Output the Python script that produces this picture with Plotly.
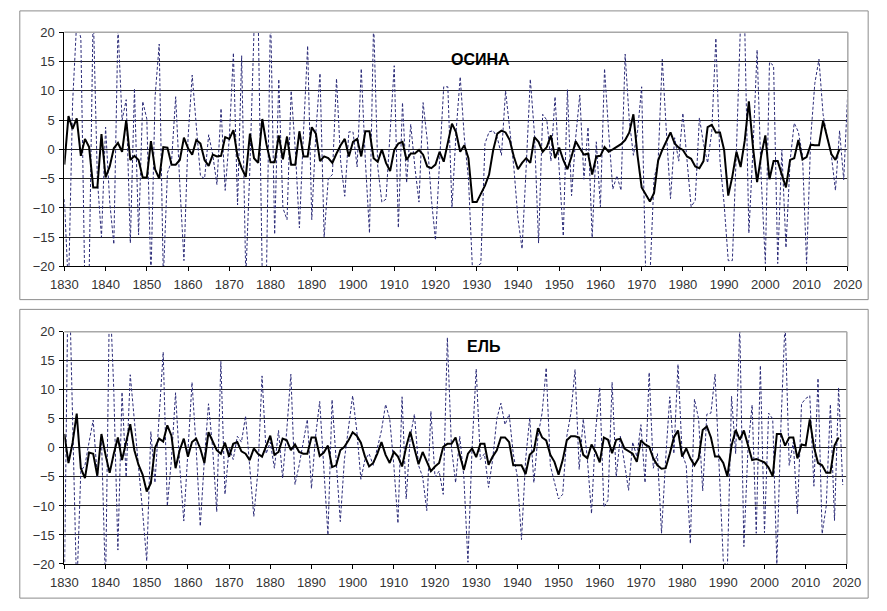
import plotly.graph_objects as go

# ---------------- data ----------------
years_annual = list(range(1830, 2021))   # dotted series (annual)
years_smooth = list(range(1830, 2019))   # thick series

osina_annual = [
    -8.5, -24, 8, 22, 19, -25, -22, 24, -5, -15,
    3.8, -9, -16.2, 21, 5, 8.5, -16, 10.4, -14.6, 8.2,
    5.2, -22, 9, 18, -22, -4, -2, 9, -6, -19,
    2, 12.7, 4, -4.5, -5, 2.5, -1, -6, 7, -7,
    2, 16.5, -9.5, 16, -22, -3, 20.5, 23, -22, -22,
    24, -14.5, 12, -10, -12, 10, 0, -13.4, 3, 17.7,
    -12, 3, 13, -15, -5, -4.3, 12.1, -2, -8, 3,
    3, -3, 13.8, -2, -14.3, 22, -3, -9, -8.5, 2,
    14.3, -13.4, 8, -5.7, 4.3, -3, -9, 8, 1.6, -8.4,
    -15.5, -2, 10.7, 10.7, -10, 3, 12.4, 2, -5, -21,
    -20, -19.5, 1, 3, 3.2, 2, -1, 10, 3, -3,
    -11.8, -17, -3, 12, 2.7, -16, 6, 5, -2, 9,
    -3.4, -14.8, 10.2, -7.9, 2, 9.3, -5.1, 3.8, -15.1, 1.3,
    -9.8, 13.8, 3, -6.8, -4.5, -7, 16.3, 5, -1, 3,
    10.7, -22, -22, -5, -2, 15.4, 3, -8.4, 2, -2,
    6.2, -2, -9.8, -8.7, 5.4, 1, -2.3, 3, 19, -2,
    -9.3, -19, -19, 0.2, 22, 21, -14.3, 0, 17, -5,
    -19.5, 14.9, 14.3, -19.5, 0, -16.8, -2, 4.5, 3, -1,
    -19.5, 2, 11.3, 15.4, 6, 2, -1, -7, 3.2, -5.2,
    10,
]

osina_smooth = [
    -2.6, 5.7, 3.5, 5.3, -1.1, 1.8, 0.4, -6.5, -6.5, 2.6,
    -4.8, -2.9, 0.2, 1.1, -0.4, 5.0, -1.8, -1.1, -1.8, -4.8,
    -4.8, 1.4, -3.4, -5.0, 0.4, 0.3, -2.6, -2.6, -1.8, 2.0,
    0.2, -0.9, 1.6, 1.0, -1.8, -2.8, -0.9, -1.2, -1.1, 2.1,
    1.8, 3.3, -1.2, -3.2, -4.7, 2.7, -1.5, -2.3, 5.2, 0.9,
    -2.2, -2.2, 2.4, -1.7, 2.2, -2.6, -2.6, 3.1, -1.2, -1.2,
    3.8, 2.7, -2.0, -1.2, -1.5, -2.3, -0.7, 0.7, 1.8, -1.2,
    1.3, 1.8, -1.2, 3.1, 3.1, -1.5, -2.1, 0.0, -2.3, -3.7,
    -0.1, 1.0, 1.3, -1.8, -0.7, -0.7, -0.1, -0.9, -2.9, -3.2,
    -2.6, -0.4, -2.1, 1.0, 4.4, 2.9, -0.4, 0.7, -1.5, -9.0,
    -9.0, -7.6, -6.2, -4.3, -0.1, 2.7, 3.2, 2.9, 1.6, -1.2,
    -3.4, -2.3, -1.5, -2.3, 2.1, 1.3, -0.4, 0.4, 2.4, -1.5,
    0.3, -1.8, -3.4, -1.2, 1.4, 0.2, -0.9, -0.7, -4.3, -1.2,
    -1.1, 0.4, -0.4, 0.0, 0.4, 0.9, 1.6, 2.9, 6.0, -1.0,
    -6.5, -7.7, -8.9, -7.5, -1.9, -0.1, 1.3, 2.9, 1.0, 0.3,
    -0.1, -1.2, -1.6, -2.9, -3.2, -2.0, 3.8, 4.2, 2.9, 2.9,
    -0.1, -7.9, -4.6, -0.4, -3.0, 1.5, 8.2, 0.4, -5.6, -1.0,
    2.4, -5.1, -2.0, -2.0, -4.3, -6.5, -1.8, -1.5, 1.6, -1.7,
    -1.3, 0.8, 0.7, 0.7, 4.9, 2.0, -0.8, -1.8, 0.1,
]

el_annual = [
    -24, 35, 5, -25, -4, -3, 1, 4.8, -5, 2,
    -24, 28, 10, -17.6, 9.6, -5, 12.6, 5, -3, -11,
    -19.5, 2.8, -6, 5, 16.5, -10, -2, 9.5, -3, -12.6,
    -1, 11.3, 0, -13.5, -2, 7.6, 0, -11, 14.9, -8,
    0, -2, 2, 1, 5.5, -3, -11.8, -4, 12.4, -1,
    1, -3.5, 3, -5.2, 3, 12.7, -6.3, -3, 1, 4.9,
    -7, 2, 8, -4, -15, 8.3, -2, -12.7, -2, 4,
    9, 3, -5.4, -2, -1, -3, 0, 3, 7.5, 5,
    -3, -13, 8.8, -8.8, 2, 5.8, -3, -5, -10.8, 6.3,
    -5, -4, -8, 19, 0, -6, 2, -5, -19.7, 0,
    13.6, -2, -1, -6.8, -2, 5, 7.7, 4, 5.8, -1,
    -5, -15.8, -2, 5.2, -6, 2, 6, 13.8, -3, -6,
    -8.8, -8, 2, 6, 13.5, -3.7, 5, -2, -11.3, 3,
    10.4, -10.2, -9, 11.3, -5, 2, -3, -7.3, 1, -1.5,
    4, -6, 13, -3.5, -1, -14.7, -2, 8.8, -1, 14.4,
    -1, -3, -16.5, 8.4, 5, -7.4, 5.8, 6, 12.7, -3,
    -19.5, -20.5, 8.9, -1, 21, -17, 0, 7.4, -14.7, 14.2,
    -14.6, 6, 5, -20, 4, 22, -3, 1, -11.4, 7.6,
    8.5, 9, -6.6, 12, -14.8, -10, 7.5, -12.5, 10.4, -6.4,
]
years_el_annual = list(range(1830, 1830 + len(el_annual)))

el_smooth = [
    2.4, -2.6, 0.9, 5.9, -3.5, -5.2, -0.8, -1.0, -4.8, 2.4,
    -1.2, -4.3, -1.0, 1.8, -2.1, 1.0, 4.1, -0.4, -2.9, -4.6,
    -7.5, -6.1, 0.0, 1.6, 1.1, 3.9, 2.1, -3.5, -0.4, 1.6,
    -1.5, 1.0, 1.6, -0.1, -2.6, 2.7, 1.0, -0.4, -1.0, 0.9,
    -1.5, 0.7, 1.0, -0.6, -1.0, -2.1, -0.1, -1.0, -1.5, 0.2,
    2.1, -1.2, -0.7, 1.6, 1.3, -0.4, 0.6, -0.7, -1.0, -1.0,
    1.8, 1.8, -1.4, -0.8, 0.4, -3.3, -3.0, -0.4, 0.2, 1.3,
    2.7, 2.1, 0.9, -1.5, -3.2, -2.6, -1.0, 1.0, -1.2, -2.6,
    -0.7, -1.5, -3.2, 0.2, 2.8, -0.1, -2.8, -0.7, -2.4, -4.0,
    -3.2, -2.6, 0.2, 0.7, 0.7, 1.8, -1.2, -3.8, -1.0, -0.1,
    -1.6, 0.7, 0.7, -2.9, -1.5, -0.4, 1.8, 1.8, 1.0, -3.0,
    -3.0, -3.0, -4.5, -1.2, -0.5, 3.4, 1.8, 1.3, -1.2, -2.4,
    -4.6, -2.1, 1.3, 2.0, 2.0, 1.8, -1.2, -1.8, 0.6, -0.7,
    -2.5, 1.8, 1.4, -0.9, 1.4, 1.6, -0.1, -0.6, -1.0, -2.4,
    1.3, 0.6, 0.2, -1.8, -3.0, -3.6, -3.5, -1.0, 1.8, 3.0,
    -1.5, -0.1, -1.8, -3.0, -1.8, 3.1, 3.7, 1.8, -1.5, -1.5,
    -2.6, -4.9, 0.4, 3.1, 1.4, 3.0, 0.4, -2.1, -1.9, -2.2,
    -2.5, -3.4, -4.9, 2.4, 2.4, 0.4, 1.8, 1.8, -1.8, 0.6,
    0.4, 4.9, 0.2, -2.6, -3.0, -4.3, -4.3, 0.4, 1.8,
]

x_ticks = list(range(1830, 2021, 10))
y_ticks = list(range(-20, 21, 5))
panel_titles = ["ОСИНА", "ЕЛЬ"]

# ---------------- layout geometry (pixels) ----------------
W, H = 887, 611
def px_x(p): return p / W
def px_y(p): return 1 - p / H

top_dom_x = [px_x(52), px_x(861)]
top_dom_y = [px_y(266), px_y(26)]
bot_dom_x = [px_x(52), px_x(860)]
bot_dom_y = [px_y(571), px_y(333)]

DOT_COLOR = "#2b2b78"
fig = go.Figure()

fig.add_trace(go.Scatter(x=years_annual, y=osina_annual, mode="lines",
                         line=dict(color=DOT_COLOR, width=1, dash="3px,2px"),
                         xaxis="x", yaxis="y", showlegend=False))
fig.add_trace(go.Scatter(x=years_smooth, y=osina_smooth, mode="lines",
                         line=dict(color="black", width=2),
                         xaxis="x", yaxis="y", showlegend=False))
fig.add_trace(go.Scatter(x=years_el_annual, y=el_annual, mode="lines",
                         line=dict(color=DOT_COLOR, width=1, dash="3px,2px"),
                         xaxis="x2", yaxis="y2", showlegend=False))
fig.add_trace(go.Scatter(x=years_smooth, y=el_smooth, mode="lines",
                         line=dict(color="black", width=2),
                         xaxis="x2", yaxis="y2", showlegend=False))

tick_font = dict(family="Liberation Sans, Arial, sans-serif", size=13, color="#333")
xcommon = dict(range=[1830, 2020], tickvals=x_ticks, ticks="outside", ticklen=4,
               tickcolor="black", showgrid=False, zeroline=False, showline=True,
               linecolor="black", linewidth=1, tickfont=tick_font, fixedrange=True,
               ticklabelstandoff=2)
ycommon = dict(range=[-20, 20], tickvals=y_ticks, ticks="outside", ticklen=4,
               tickcolor="black", showgrid=True, gridcolor="#222", gridwidth=1,
               zeroline=False, showline=True, linecolor="black", linewidth=1,
               tickfont=tick_font, fixedrange=True, ticklabelstandoff=2)

fig.update_layout(
    width=W, height=H,
    margin=dict(l=0, r=0, t=0, b=0),
    paper_bgcolor="white", plot_bgcolor="white",
    xaxis=dict(domain=top_dom_x, anchor="y", **xcommon),
    yaxis=dict(domain=top_dom_y, anchor="x", **ycommon),
    xaxis2=dict(domain=bot_dom_x, anchor="y2", **xcommon),
    yaxis2=dict(domain=bot_dom_y, anchor="x2", **ycommon),
)

shapes = []
# outer panel boxes
for (y0, y1) in [(4, 300), (310, 606)]:
    shapes.append(dict(type="rect", xref="paper", yref="paper",
                       x0=px_x(6), x1=px_x(882), y0=px_y(y1), y1=px_y(y0),
                       line=dict(color="#8c8c8c", width=1), layer="below"))
# gray top/right border of plot areas
for xr, yr in [("x domain", "y domain"), ("x2 domain", "y2 domain")]:
    shapes.append(dict(type="line", xref=xr, yref=yr, x0=0, x1=1, y0=1, y1=1,
                       line=dict(color="#a8a8a8", width=1.5), layer="above"))
    shapes.append(dict(type="line", xref=xr, yref=yr, x0=1, x1=1, y0=0, y1=1,
                       line=dict(color="#a8a8a8", width=1.5), layer="above"))
fig.update_layout(shapes=shapes)

title_font = dict(family="Liberation Sans, Arial, sans-serif", size=16, color="black")
fig.add_annotation(text="<b>" + panel_titles[0] + "</b>", xref="paper", yref="paper",
                   x=px_x(482), y=px_y(43), showarrow=False, font=title_font)
fig.add_annotation(text="<b>" + panel_titles[1] + "</b>", xref="paper", yref="paper",
                   x=px_x(485), y=px_y(348), showarrow=False, font=title_font)

fig.write_html("out.html", config={"displayModeBar": False})
